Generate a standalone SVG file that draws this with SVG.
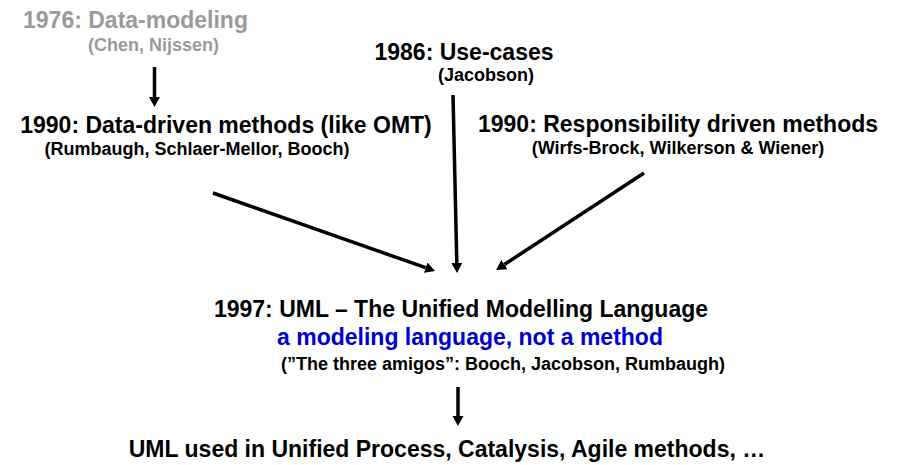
<svg xmlns="http://www.w3.org/2000/svg" width="901" height="465" viewBox="0 0 901 465">
  <style>
    text { font-family: "Liberation Sans", Arial, Helvetica, sans-serif; font-weight: bold; text-anchor: middle; fill: #000; }
    .title { font-size: 23px; }
    .sub { font-size: 18px; }
    .old { fill: #9a9a9a; }
    .note { fill: #0000cc; }
    .arrow { stroke: #000; stroke-width: 3.5; fill: none; marker-end: url(#head); }
  </style>
  <defs>
    <marker id="head" markerUnits="userSpaceOnUse" markerWidth="12" markerHeight="12" refX="0" refY="5.5" orient="auto">
      <path d="M0,0 L10,5.5 L0,11 z" fill="#000"/>
    </marker>
  </defs>
  <rect width="901" height="465" fill="#fff"/>

  <g id="data-modeling">
    <text class="title old" x="135.5" y="28">1976: Data-modeling</text>
    <text class="sub old" x="153.5" y="51">(Chen, Nijssen)</text>
  </g>

  <g id="use-cases">
    <text class="title" x="464" y="60">1986: Use-cases</text>
    <text class="sub" x="486" y="81">(Jacobson)</text>
  </g>

  <g id="data-driven">
    <text class="title" x="226" y="133">1990: Data-driven methods (like OMT)</text>
    <text class="sub" x="197" y="155">(Rumbaugh, Schlaer-Mellor, Booch)</text>
  </g>

  <g id="responsibility-driven">
    <text class="title" x="678" y="132">1990: Responsibility driven methods</text>
    <text class="sub" x="678" y="154">(Wirfs-Brock, Wilkerson &amp; Wiener)</text>
  </g>

  <g id="uml">
    <text class="title" x="461" y="317">1997: UML – The Unified Modelling Language</text>
    <text class="title note" x="470" y="345">a modeling language, not a method</text>
    <text class="sub" x="503" y="370">(”The three amigos”: Booch, Jacobson, Rumbaugh)</text>
  </g>

  <g id="uml-usage">
    <text class="title" x="447" y="457">UML used in Unified Process, Catalysis, Agile methods, …</text>
  </g>

  <g id="connectors">
    <line class="arrow" x1="154.5" y1="67" x2="154.5" y2="97"/>
    <line class="arrow" x1="453" y1="95" x2="456.8" y2="263"/>
    <line class="arrow" x1="213" y1="193" x2="425.6" y2="267.7"/>
    <line class="arrow" x1="644" y1="173" x2="504.4" y2="264.5"/>
    <line class="arrow" x1="458" y1="387" x2="458" y2="416"/>
  </g>
</svg>
